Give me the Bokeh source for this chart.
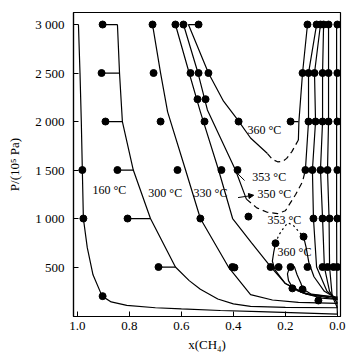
import numpy as np
from bokeh.plotting import figure
from bokeh.models import Range1d, FixedTicker, Arrow, NormalHead, PrintfTickFormatter, ColumnDataSource
from bokeh.embed import file_html
from bokeh.resources import INLINE
from bokeh.core.properties import value

# ---- isotherm curves: x(CH4) and P / 10^5 Pa ----
v160_x = [0.996, 0.990, 0.985, 0.981, 0.977, 0.962, 0.940, 0.905, 0.870, 0.810, 0.700, 0.600, 0.450, 0.300, 0.150, 0.0]
v160_p = [3000, 2500, 2000, 1500, 1000, 700, 420, 200, 140, 105, 80, 68, 52, 40, 28, 15]
l160_x = [0.003, 0.003, 0.002, 0.0]
l160_p = [3000, 1000, 200, 15]

v300_x = [0.846, 0.838, 0.827, 0.785, 0.719, 0.623, 0.570, 0.527, 0.460, 0.400, 0.334, 0.200, 0.0]
v300_p = [3000, 2500, 2000, 1500, 1000, 500, 360, 270, 170, 120, 95, 84, 80]
l300_x = [0.034, 0.034, 0.034, 0.038, 0.032, 0.030, 0.020, 0.0]
l300_p = [3000, 2500, 2000, 1500, 1000, 500, 200, 80]

v330_x = [0.711, 0.680, 0.653, 0.584, 0.527, 0.419, 0.334, 0.250, 0.150, 0.0]
v330_p = [3000, 2500, 2100, 1500, 1000, 500, 215, 160, 135, 125]
l330_x = [0.053, 0.057, 0.057, 0.065, 0.057, 0.050, 0.030, 0.0]
l330_p = [3000, 2500, 2000, 1500, 1000, 500, 250, 125]

v350_x = [0.623, 0.570, 0.527, 0.457, 0.403, 0.330, 0.257, 0.200, 0.130, 0.060, 0.0]
v350_p = [3000, 2500, 2100, 1500, 1000, 750, 505, 330, 230, 180, 165]
l350_x = [0.065, 0.088, 0.084, 0.096, 0.092, 0.080, 0.040, 0.0]
l350_p = [3000, 2500, 2000, 1500, 1000, 500, 250, 165]

v353u_x = [0.592, 0.536, 0.500, 0.392, 0.350]
v353u_p = [3000, 2500, 2120, 1500, 1200]
c353u_x = [0.350, 0.310, 0.270, 0.230, 0.200, 0.160, 0.134, 0.123]
c353u_p = [1200, 1110, 1065, 1050, 1080, 1250, 1380, 1500]
l353u_x = [0.123, 0.111, 0.111, 0.080]
l353u_p = [1500, 2000, 2500, 3000]

c353l_x = [0.238, 0.225, 0.205, 0.190, 0.170, 0.150, 0.130]
c353l_p = [745, 830, 910, 955, 930, 870, 813]
v353l_x = [0.238, 0.245, 0.250, 0.240, 0.200, 0.120, 0.0]
v353l_p = [745, 650, 560, 470, 330, 220, 170]
l353l_x = [0.130, 0.120, 0.110, 0.090, 0.050, 0.0]
l353l_p = [813, 700, 550, 400, 250, 170]

v360u_x = [0.573, 0.496, 0.438, 0.384, 0.334, 0.269]
v360u_p = [3000, 2500, 2210, 2020, 1830, 1670]
c360u_x = [0.269, 0.250, 0.230, 0.210, 0.195, 0.175, 0.150]
c360u_p = [1670, 1610, 1585, 1590, 1620, 1690, 1810]
l360u_x = [0.150, 0.148, 0.134, 0.115]
l360u_p = [1810, 2000, 2500, 3000]

v360l_x = [0.0, 0.100, 0.150, 0.173, 0.188, 0.192, 0.185, 0.175]
v360l_p = [187, 215, 250, 290, 360, 430, 490, 520]
l360l_x = [0.175, 0.165, 0.155, 0.140, 0.134, 0.100, 0.0]
l360l_p = [520, 500, 420, 330, 275, 220, 187]

# ---- experimental points ----
dot_x = [0.981, 0.977, 0.903,
         0.903, 0.907, 0.892, 0.846, 0.807, 0.688,
         0.711, 0.707, 0.680, 0.615, 0.527, 0.404, 0.396,
         0.623, 0.592, 0.534, 0.565, 0.534, 0.496, 0.538, 0.507, 0.511, 0.380,
         0.446, 0.384, 0.342, 0.257, 0.226, 0.180, 0.238, 0.130, 0.173, 0.134, 0.073,
         0.115, 0.080, 0.065, 0.053, 0.034, 0.0,
         0.134, 0.111, 0.088, 0.057, 0.034, 0.0,
         0.180, 0.111, 0.084, 0.057, 0.034, 0.0,
         0.123, 0.096, 0.065, 0.038, 0.0,
         0.092, 0.057, 0.030, 0.0,
         0.115, 0.057, 0.038, 0.015, 0.0]
dot_p = [1500, 1000, 200,
         3000, 2500, 2000, 1500, 1000, 500,
         3000, 2500, 2000, 1500, 1000, 500, 495,
         3000, 3000, 3000, 2500, 2500, 2500, 2230, 2230, 2000, 2000,
         1500, 1500, 1020, 500, 500, 500, 745, 813, 280, 270, 155,
         3000, 3000, 3000, 3000, 3000, 3000,
         2500, 2500, 2500, 2500, 2500, 2500,
         2000, 2000, 2000, 2000, 2000, 2000,
         1500, 1500, 1500, 1500, 1500,
         1000, 1000, 1000, 1000,
         500, 500, 500, 500, 500]

# tie lines: point x -> curve x at pressure P
tie_x0 = [0.903, 0.907, 0.892, 0.846, 0.807, 0.688, 0.534, 0.180, 0.404]
tie_x1 = [0.846, 0.838, 0.827, 0.785, 0.719, 0.623, 0.573, 0.150, 0.419]
tie_p = [3000, 2500, 2000, 1500, 1000, 500, 3000, 2000, 500]

# temperature labels
lab_text = ["160 \u00b0C", "300 \u00b0C", "330 \u00b0C", "350 \u00b0C", "353 \u00b0C", "353 \u00b0C", "360 \u00b0C", "360 \u00b0C"]
lab_x = [0.942, 0.727, 0.553, 0.307, 0.327, 0.269, 0.346, 0.230]
lab_p = [1297, 1266, 1266, 1256, 1431, 988, 1915, 659]

y_ticks = [500, 1000, 1500, 2000, 2500, 3000]
y_tick_labels = ["500", "1 000", "1 500", "2 000", "2 500", "3 000"]
x_ticks = [0.0, 0.2, 0.4, 0.6, 0.8, 1.0]

p = figure(width=346, height=356, output_backend="svg", toolbar_location=None,
           x_range=Range1d(1.015, -0.012), y_range=Range1d(-10, 3124),
           min_border_left=73, min_border_right=6, min_border_top=12, min_border_bottom=40)
p.grid.visible = False
p.outline_line_color = "black"
p.outline_line_width = 1.2
p.background_fill_color = "white"
p.border_fill_color = "white"

FONT = "Liberation Serif"
for ax in (p.xaxis[0], p.yaxis[0]):
    ax.major_tick_in = 5
    ax.major_tick_out = 0
    ax.minor_tick_line_color = None
    ax.axis_line_color = "black"
    ax.axis_line_width = 1.2
    ax.major_tick_line_color = "black"
    ax.major_label_text_font = FONT
    ax.major_label_text_font_size = "13px"
    ax.major_label_text_color = "black"
    ax.axis_label_text_font = FONT
    ax.axis_label_text_font_size = "13px"
    ax.axis_label_text_font_style = "normal"
    ax.axis_label_text_color = "black"
p.yaxis.ticker = FixedTicker(ticks=y_ticks)
p.yaxis.major_label_overrides = {t: s for t, s in zip(y_ticks, y_tick_labels)}
p.yaxis.major_label_standoff = 9
p.yaxis.axis_label = "P/(10\u2075 Pa)"
p.yaxis.axis_label_standoff = 10
p.xaxis.ticker = FixedTicker(ticks=x_ticks)
p.xaxis.formatter = PrintfTickFormatter(format="%.1f")
p.xaxis.major_label_standoff = 5
p.xaxis.axis_label = "x(CH\u2084)"
p.xaxis.axis_label_standoff = 4

LW = 1.2
solid = [(v160_x, v160_p), (l160_x, l160_p), (v300_x, v300_p), (l300_x, l300_p),
         (v330_x, v330_p), (l330_x, l330_p), (v350_x, v350_p), (l350_x, l350_p),
         (v353u_x, v353u_p), (l353u_x, l353u_p), (v353l_x, v353l_p), (l353l_x, l353l_p),
         (v360u_x, v360u_p), (l360u_x, l360u_p), (v360l_x, v360l_p), (l360l_x, l360l_p)]
for xs, ps in solid:
    p.line(xs, ps, line_color="black", line_width=LW)
p.line(c353u_x, c353u_p, line_color="black", line_width=LW, line_dash="6 4")
p.line(c360u_x, c360u_p, line_color="black", line_width=LW, line_dash="6 4")
p.line(c353l_x, c353l_p, line_color="black", line_width=LW, line_dash="2 3")

p.segment(x0=tie_x0, y0=tie_p, x1=tie_x1, y1=tie_p, line_color="black", line_width=LW)
p.scatter(dot_x, dot_p, size=7, color="black")

src = ColumnDataSource(dict(x=lab_x, y=lab_p, t=lab_text))
p.text(x="x", y="y", text="t", source=src, text_font=value(FONT), text_font_size="12px",
       text_baseline="middle", text_align="left", text_color="black")

# leaders
p.segment(x0=[0.384], y0=[1464], x1=[0.357], y1=[1392], line_color="black", line_width=1)
p.add_layout(Arrow(end=NormalHead(size=5, fill_color="black", line_color="black"),
                   x_start=0.382, y_start=1216, x_end=0.322, y_end=1240, line_width=1))

open("out.html", "w").write(file_html(p, INLINE))
